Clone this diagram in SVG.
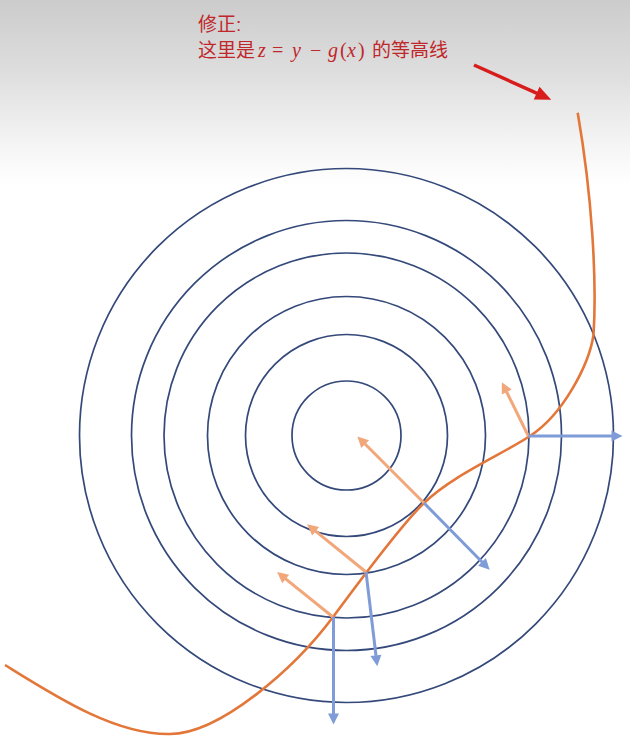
<svg xmlns="http://www.w3.org/2000/svg" width="630" height="739" viewBox="0 0 630 739">
<defs>
<linearGradient id="bg" x1="0" y1="0" x2="0" y2="1">
<stop offset="0" stop-color="#cccccc"/>
<stop offset="0.4" stop-color="#dedede"/>
<stop offset="0.75" stop-color="#f3f3f3"/>
<stop offset="1" stop-color="#ffffff"/>
</linearGradient>
<marker id="mo" markerUnits="userSpaceOnUse" markerWidth="14" markerHeight="14" refX="0.5" refY="0" orient="auto" viewBox="0 -7 14 14" overflow="visible"><path d="M0,-5.5 L11,0 L0,5.5 z" fill="#f2a77a"/></marker>
<marker id="mb" markerUnits="userSpaceOnUse" markerWidth="14" markerHeight="14" refX="0.5" refY="0" orient="auto" viewBox="0 -7 14 14" overflow="visible"><path d="M0,-5.5 L11,0 L0,5.5 z" fill="#7f9cd8"/></marker>
<marker id="mr" markerUnits="userSpaceOnUse" markerWidth="18" markerHeight="18" refX="0.5" refY="0" orient="auto" viewBox="0 -9 18 18" overflow="visible"><path d="M0,-7 L16,0 L0,7 z" fill="#d81c1c"/></marker>
</defs>
<style>
.c{fill:none;stroke:#34497a;stroke-width:1.7}
.o{stroke:#f2a77a;stroke-width:3;fill:none;marker-end:url(#mo)}
.b{stroke:#7f9cd8;stroke-width:3;fill:none;marker-end:url(#mb)}
.t{font-family:"Liberation Sans","Noto Sans CJK SC",sans-serif;font-size:19px;fill:#c0272b}
.m{font-family:"Liberation Serif","DejaVu Serif",serif;font-size:20px;fill:#c0272b}
.i{font-style:italic}
</style>
<rect x="0" y="0" width="630" height="185" fill="url(#bg)"/>
<g id="contours">
<circle class="c" cx="346.5" cy="435.5" r="267"/>
<circle class="c" cx="346.5" cy="435.5" r="215"/>
<circle class="c" cx="346.5" cy="435.5" r="182.5"/>
<circle class="c" cx="346.5" cy="435.5" r="139"/>
<circle class="c" cx="346.5" cy="435.5" r="101"/>
<circle class="c" cx="346.5" cy="435.5" r="54.5"/>
</g>
<g id="curve">
<path d="M5,665 C55,696 115,735 170,734 C220,734 295,668 333,617 C354,589 399,527 424,503 C453,475 501,455 530,436 C563,414.7 589,364.7 593.5,335 C597,280 592,195 577.7,112.7" fill="none" stroke="#e3773a" stroke-width="2.6"/>
</g>
<g id="connectors">
<line class="o" x1="424" y1="503" x2="364.8" y2="443.8"/>
<line class="b" x1="424" y1="503" x2="482.3" y2="562.2"/>
<line class="o" x1="366" y1="572" x2="315.2" y2="530.9"/>
<line class="b" x1="366" y1="572" x2="376" y2="655.8"/>
<line class="o" x1="333" y1="617" x2="285.3" y2="578.6"/>
<line class="b" x1="333.5" y1="617" x2="333.5" y2="714"/>
<line class="o" x1="528.3" y1="436" x2="506.5" y2="391.6"/>
<line class="b" x1="528.3" y1="436" x2="612" y2="436"/>
<line x1="474" y1="65" x2="537.1" y2="93.4" stroke="#d81c1c" stroke-width="3.5" marker-end="url(#mr)"/>
</g>
<g id="label">
<text class="t" x="198" y="31">修正:</text>
<text class="t" x="198" y="57">这里是</text>
<text class="m" y="57"><tspan class="i" x="258">z</tspan><tspan x="272">=</tspan><tspan class="i" x="292">y</tspan><tspan x="310">−</tspan><tspan class="i" x="328">g</tspan><tspan x="340">(</tspan><tspan class="i" x="347">x</tspan><tspan x="358">)</tspan></text>
<text class="t" x="372" y="57">的等高线</text>
</g>
</svg>
